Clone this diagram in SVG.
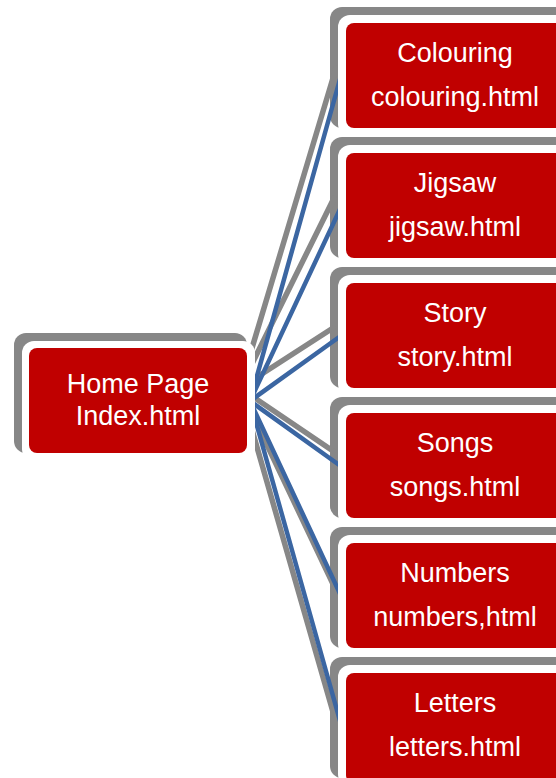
<svg xmlns="http://www.w3.org/2000/svg" width="556" height="778" viewBox="0 0 556 778">
<style>
.sh{fill:#878787}
.wb{fill:#ffffff}
.rd{fill:#C00000}
.gl{stroke:#878787;stroke-width:5.5;fill:none;stroke-linecap:round}
.bl{stroke:#3B66A2;stroke-width:4.5;fill:none;stroke-linecap:round}
.t{font-family:"Liberation Sans",Arial,sans-serif;font-size:27px;fill:#ffffff;text-anchor:middle}
</style>
<rect width="556" height="778" fill="#ffffff"/>
<g id="shadows">
<rect class="sh" x="14" y="333" width="233" height="120" rx="12"/>
<rect class="sh" x="330" y="7" width="240" height="121" rx="12"/>
<rect class="sh" x="330" y="137" width="240" height="121" rx="12"/>
<rect class="sh" x="330" y="267" width="240" height="121" rx="12"/>
<rect class="sh" x="330" y="397" width="240" height="121" rx="12"/>
<rect class="sh" x="330" y="527" width="240" height="121" rx="12"/>
<rect class="sh" x="330" y="657" width="240" height="121" rx="12"/>
</g>
<g id="connectors">
<line class="gl" x1="240" y1="388" x2="336" y2="68"/>
<line class="gl" x1="240" y1="388" x2="334" y2="198"/>
<line class="gl" x1="240" y1="388" x2="333" y2="328"/>
<line class="gl" x1="240" y1="388" x2="333" y2="451"/>
<line class="gl" x1="240" y1="388" x2="333" y2="584"/>
<line class="gl" x1="240" y1="388" x2="333" y2="712"/>
<line class="bl" x1="250" y1="401" x2="342" y2="72"/>
<line class="bl" x1="250" y1="401" x2="342" y2="205"/>
<line class="bl" x1="250" y1="401" x2="342" y2="335"/>
<line class="bl" x1="250" y1="401" x2="342" y2="467"/>
<line class="bl" x1="250" y1="401" x2="342" y2="598"/>
<line class="bl" x1="250" y1="401" x2="342" y2="728"/>
</g>
<g id="home">
<rect class="wb" x="22" y="341" width="233" height="120" rx="12"/>
<rect class="rd" x="29" y="348" width="218" height="105" rx="8"/>
<text class="t" x="138" y="393">Home Page</text>
<text class="t" x="138" y="425">Index.html</text>
</g>
<g id="colouring">
<rect class="wb" x="338" y="15" width="240" height="121" rx="12"/>
<rect class="rd" x="346" y="23" width="224" height="105" rx="8"/>
<text class="t" x="455" y="62">Colouring</text>
<text class="t" x="455" y="106">colouring.html</text>
</g>
<g id="jigsaw">
<rect class="wb" x="338" y="145" width="240" height="121" rx="12"/>
<rect class="rd" x="346" y="153" width="224" height="105" rx="8"/>
<text class="t" x="455" y="192">Jigsaw</text>
<text class="t" x="455" y="236">jigsaw.html</text>
</g>
<g id="story">
<rect class="wb" x="338" y="275" width="240" height="121" rx="12"/>
<rect class="rd" x="346" y="283" width="224" height="105" rx="8"/>
<text class="t" x="455" y="322">Story</text>
<text class="t" x="455" y="366">story.html</text>
</g>
<g id="songs">
<rect class="wb" x="338" y="405" width="240" height="121" rx="12"/>
<rect class="rd" x="346" y="413" width="224" height="105" rx="8"/>
<text class="t" x="455" y="452">Songs</text>
<text class="t" x="455" y="496">songs.html</text>
</g>
<g id="numbers">
<rect class="wb" x="338" y="535" width="240" height="121" rx="12"/>
<rect class="rd" x="346" y="543" width="224" height="105" rx="8"/>
<text class="t" x="455" y="582">Numbers</text>
<text class="t" x="455" y="626">numbers,html</text>
</g>
<g id="letters">
<rect class="wb" x="338" y="665" width="240" height="121" rx="12"/>
<rect class="rd" x="346" y="673" width="224" height="110" rx="8"/>
<text class="t" x="455" y="712">Letters</text>
<text class="t" x="455" y="756">letters.html</text>
</g>
</svg>
